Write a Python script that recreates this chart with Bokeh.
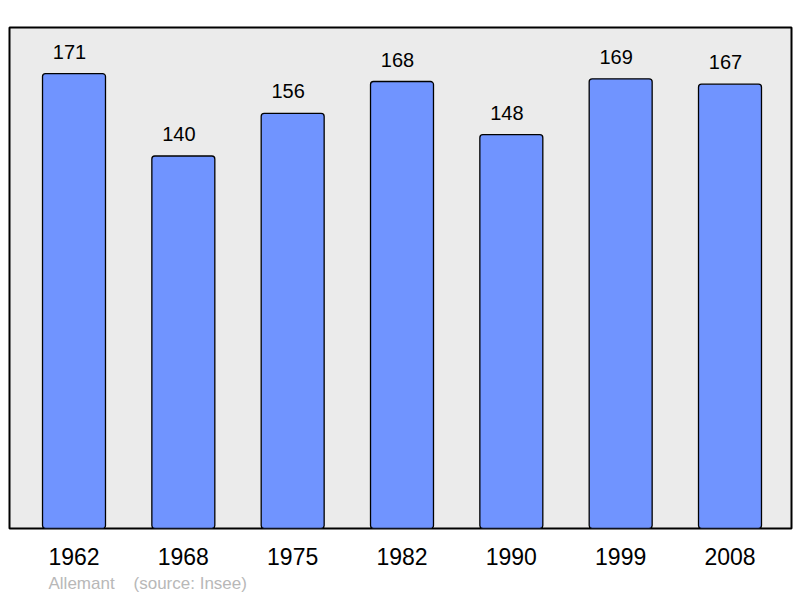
from bokeh.plotting import figure
from bokeh.models import ColumnDataSource, Range1d, FixedTicker, Title
from bokeh.core.properties import value
from bokeh.embed import file_html
from bokeh.resources import INLINE

years = ["1962", "1968", "1975", "1982", "1990", "1999", "2008"]
population = [171, 140, 156, 168, 148, 169, 167]
commune = "Allemant"
source_note = "(source: Insee)"

xs = list(range(len(years)))
src = ColumnDataSource(dict(x=xs, y=population, label=[str(v) for v in population]))

p = figure(frame_width=782, frame_height=501, output_backend="svg", toolbar_location=None,
           x_range=Range1d(-0.59, 6.5625), y_range=Range1d(0, 188.3),
           min_border_left=9, min_border_right=9, min_border_top=27, min_border_bottom=10)

p.background_fill_color = "#EBEBEB"
p.border_fill_color = "white"
p.outline_line_color = "black"
p.outline_line_width = 2
p.grid.visible = False
p.yaxis.visible = False

p.vbar(x="x", top="y", bottom=0, width=0.576, source=src,
       fill_color="#7094FF", line_color="black", line_width=1.3, border_radius=3)

p.text(x="x", y="y", text="label", source=src, y_offset=-22, x_offset=-4.5,
       text_align="center", text_baseline="middle",
       text_font=value("Liberation Sans"), text_font_size="20px", text_color="black")

ax = p.xaxis[0]
ax.ticker = FixedTicker(ticks=xs)
ax.major_label_overrides = {i: y for i, y in enumerate(years)}
ax.axis_line_color = None
ax.major_tick_line_color = None
ax.minor_tick_line_color = None
ax.major_tick_out = 0
ax.major_tick_in = 0
ax.major_label_text_font = "Liberation Sans"
ax.major_label_text_font_size = "23px"
ax.major_label_text_color = "black"
ax.major_label_standoff = 19

foot = Title(text=commune + "\u00a0\u00a0\u00a0\u00a0" + source_note, align="left",
             text_font="Liberation Sans", text_font_size="17px", text_font_style="normal",
             text_color="#B8B8B8", offset=39, standoff=8)
p.add_layout(foot, "below")

open("out.html", "w").write(file_html(p, INLINE))
